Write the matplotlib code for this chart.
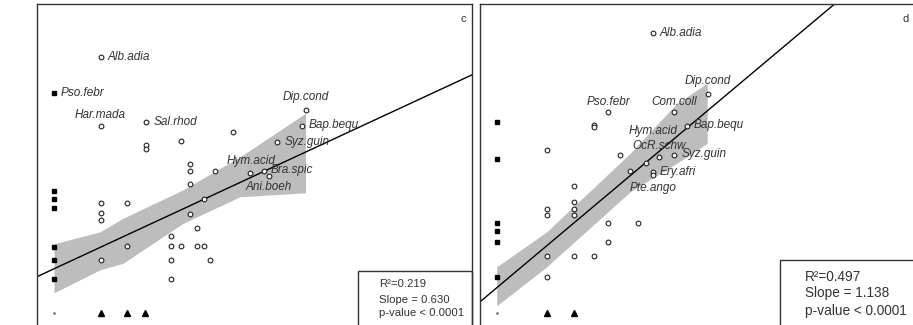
import numpy as np
import matplotlib
matplotlib.use("Agg")
import matplotlib.pyplot as plt
from matplotlib.patches import Rectangle

plt.rcParams['font.family'] = ['Liberation Sans', 'DejaVu Sans']

# panel c
c_sq_y = [4.41, 2.45, 2.29, 2.10, 1.33, 1.07, 0.68]
c_tri_x = [0.93, 1.45, 1.82]
c_x = [0.93, 0.93, 1.83, 1.83, 1.83, 2.54, 3.58, 2.71, 2.71, 2.71, 3.22, 3.92,
       4.19, 4.29, 4.45, 4.95, 5.03, 0.93, 0.93, 0.93, 1.45, 2.99, 2.71, 2.86,
       2.34, 2.34, 2.54, 2.86, 2.99, 1.45, 0.93, 2.34, 3.11, 2.34]
c_y = [5.13, 3.75, 3.83, 3.37, 3.29, 3.44, 3.62, 2.98, 2.85, 2.58, 2.84, 2.80,
       2.84, 2.75, 3.42, 3.74, 4.07, 2.21, 2.00, 1.87, 2.21, 2.29, 1.99, 1.71,
       1.55, 1.34, 1.34, 1.34, 1.34, 1.34, 1.07, 1.07, 1.07, 0.68]
c_labels = ['Alb.adia', 'Pso.febr', 'Har.mada', 'Sal.rhod', 'Dip.cond',
            'Bap.bequ', 'Syz.guin', 'Hym.acid', 'Bra.spic', 'Ani.boeh']
c_lab_x = [0.93, 0.0, 0.93, 1.83, 5.03, 4.95, 4.45, 3.92, 4.19, 4.29]
c_lab_y = [5.13, 4.41, 3.75, 3.83, 4.07, 3.74, 3.42, 2.80, 2.84, 2.75]
c_band_x = [0, 0.92, 1.38, 2.58, 3.72, 5.03]
c_band_hi = [1.39, 1.63, 1.90, 2.47, 3.13, 4.00]
c_band_lo = [0.41, 0.87, 1.00, 1.80, 2.33, 2.41]
c_icpt, c_slope = 0.89, 0.464
c_stats = ['R²=0.219', 'Slope = 0.630', 'p-value < 0.0001']

# panel d
d_sq_y = [3.83, 3.08, 1.81, 1.65, 1.42, 0.73]
d_tri_x = [1.01, 1.55]
d_x = [3.12, 2.23, 1.94, 1.94, 3.55, 4.23, 3.80, 1.01, 2.47, 3.25, 3.55, 2.99,
       2.67, 3.12, 3.12, 1.55, 1.01, 1.01, 1.55, 1.55, 1.55, 2.23, 2.83, 2.23,
       1.01, 1.55, 1.94, 1.01]
d_y = [5.61, 4.02, 3.77, 3.72, 4.02, 4.39, 3.75, 3.27, 3.16, 3.13, 3.17, 3.00,
       2.85, 2.83, 2.76, 2.55, 2.09, 1.97, 2.23, 2.09, 1.97, 1.81, 1.81, 1.42,
       1.15, 1.15, 1.15, 0.73]
d_labels = ['Alb.adia', 'Pso.febr', 'Com.coll', 'Dip.cond', 'Bap.bequ',
            'Hym.acid', 'OcR.schw', 'Syz.guin', 'Ery.afri', 'Pte.ango']
d_lab_x = [3.12, 2.23, 3.55, 4.23, 3.80, 2.99, 3.25, 3.55, 3.12, 3.12]
d_lab_y = [5.61, 4.02, 4.02, 4.39, 3.75, 3.00, 3.13, 3.17, 2.83, 2.76]
d_band_x = [0, 1.0, 2.67, 3.6, 4.21]
d_band_hi = [0.93, 1.63, 3.20, 4.20, 4.60]
d_band_lo = [0.15, 0.93, 2.43, 3.00, 3.40]
d_icpt, d_slope = 0.51, 0.84
d_stats = ['R²=0.497', 'Slope = 1.138', 'p-value < 0.0001']

# label placement in pixels (dx, dy, ha)
c_offs = [(7, 0, 'left'), (7, 0, 'left'), (0, 10.3, 'center'), (7.7, 0, 'left'),
          (0, 12.7, 'center'), (7.6, 1, 'left'), (7.7, 0, 'left'),
          (0.7, 12.6, 'center'), (7.4, 1.3, 'left'), (0, -11, 'center')]
d_offs = [(7.3, 0, 'left'), (0, 10.7, 'center'), (0, 10.7, 'center'),
          (0, 13, 'center'), (6.7, 1, 'left'), (7, 32.3, 'center'),
          (0, 10.6, 'center'), (7.7, 0.7, 'left'), (7.3, 0, 'left'),
          (0, -12.4, 'center')]

W, H = 913, 325
fig = plt.figure(figsize=(W / 100, H / 100), dpi=100)


def panel(left, right, xlim, sq_y, tri_x, xs, ys, labels, lx, ly, offs,
          bx, bhi, blo, icpt, slope):
    ax = fig.add_axes([left / W, -10 / H, (right - left) / W, (335 - 4.3) / H])
    ax.set_xlim(*xlim)
    ax.set_ylim(-0.434, 6.18)
    ax.set_xticks([])
    ax.set_yticks([])
    for s in ax.spines.values():
        s.set_linewidth(1.0)
        s.set_color('#333333')
    ax.fill_between(bx, blo, bhi, color='#bdbdbd', lw=0, zorder=1)
    ax.axline((0, icpt), slope=slope, color='black', lw=1.0, zorder=2)
    ax.plot(np.zeros(len(sq_y)), sq_y, 's', color='black', ms=3.4, zorder=3)
    ax.plot(tri_x, np.zeros(len(tri_x)), '^', color='black', ms=4.2, zorder=3)
    ax.plot([0], [0], '.', color='#555555', ms=1.5, zorder=3)
    ax.plot(xs, ys, 'o', mfc='white', mec='#222222', ms=3.4, mew=0.8, zorder=3)
    for name, x, y, (dx, dy, ha) in zip(labels, lx, ly, offs):
        ax.annotate(name, (x, y), xytext=(dx, dy), textcoords='offset pixels',
                    ha=ha, va='center', fontsize=8.5, style='italic',
                    color='#333333', zorder=4)
    return ax


panel(37, 471.5, (-0.34, 8.35), c_sq_y, c_tri_x, c_x, c_y, c_labels,
      c_lab_x, c_lab_y, c_offs, c_band_x, c_band_hi, c_band_lo, c_icpt, c_slope)
panel(480, 930, (-0.334, 8.666), d_sq_y, d_tri_x, d_x, d_y, d_labels,
      d_lab_x, d_lab_y, d_offs, d_band_x, d_band_hi, d_band_lo, d_icpt, d_slope)

# stats boxes
fig.patches.append(Rectangle((358.3 / W, -0.1), (471.5 - 358.3) / W,
                             0.1 + (325 - 270.7) / H, transform=fig.transFigure,
                             fill=False, ec='#333333', lw=1.0))
fig.patches.append(Rectangle((780 / W, -0.1), 0.2, 0.1 + (325 - 260) / H,
                             transform=fig.transFigure, fill=False,
                             ec='#333333', lw=1.0))
for t, py in zip(c_stats, [284.3, 300, 313.3]):
    fig.text(379.3 / W, 1 - py / H, t, fontsize=8.2, color='#333333',
             va='center')
for t, py in zip(d_stats, [276.7, 293.3, 310.7]):
    fig.text(805 / W, 1 - py / H, t, fontsize=9.8, color='#333333',
             va='center')

fig.text(463.3 / W, 1 - 19 / H, 'c', fontsize=8, color='#333333',
         ha='center', va='center')
fig.text(905.7 / W, 1 - 19 / H, 'd', fontsize=8, color='#333333',
         ha='center', va='center')

fig.savefig('out.png', dpi=100)
